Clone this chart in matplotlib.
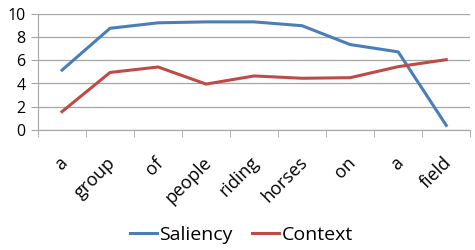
import matplotlib

matplotlib.use("Agg")
import matplotlib.pyplot as plt
import matplotlib.transforms as mtransforms
import numpy as np

words = ["a", "group", "of", "people", "riding", "horses", "on", "a", "field"]
saliency = [5.15, 8.75, 9.22, 9.3, 9.3, 8.97, 7.35, 6.72, 0.4]
context = [1.58, 4.95, 5.42, 3.95, 4.65, 4.45, 4.5, 5.45, 6.05]

plt.rcParams["font.family"] = ["Open Sans", "DejaVu Sans"]

fig = plt.figure(figsize=(4.75, 2.5), dpi=100)
ax = fig.add_axes([0.08, 0.48, 0.91, 0.465])

x = np.arange(len(words))
ax.plot(x, saliency, color="#4A7EBB", lw=2.2, label="Saliency")
ax.plot(x, context, color="#BE4B48", lw=2.2, label="Context")

ax.set_xlim(-0.5, len(words) - 0.5)
ax.set_ylim(0, 10)
ax.set_yticks(np.arange(0, 11, 2))
ax.grid(axis="y", color="#A6A6A6", lw=0.9)
ax.set_axisbelow(True)

ax.set_xticks(x)
ax.set_xticklabels(words, rotation=45, ha="right", rotation_mode="anchor", fontsize=13)
ax.set_xticks(np.arange(-0.5, len(words), 1.0), minor=True)
ax.tick_params(axis="x", which="major", length=0, pad=17)
ax.tick_params(axis="x", which="minor", length=5, color="#A6A6A6", direction="out")
ax.tick_params(axis="y", length=5, color="#A6A6A6", labelsize=11.5, pad=4)

# nudge the rotated labels a little to the left, as in the original
shift = mtransforms.ScaledTranslation(-4 / 100, 0, fig.dpi_scale_trans)
for lbl in ax.get_xticklabels():
    lbl.set_transform(lbl.get_transform() + shift)

for side in ["top", "right"]:
    ax.spines[side].set_visible(False)
for side in ["bottom", "left"]:
    ax.spines[side].set_color("#A6A6A6")

fig.legend(loc="lower center", bbox_to_anchor=(0.508, -0.045), ncol=2, frameon=False,
           fontsize=14, handlelength=1.4, handletextpad=0.1, columnspacing=1.0)

fig.savefig("out.png", dpi=100)
